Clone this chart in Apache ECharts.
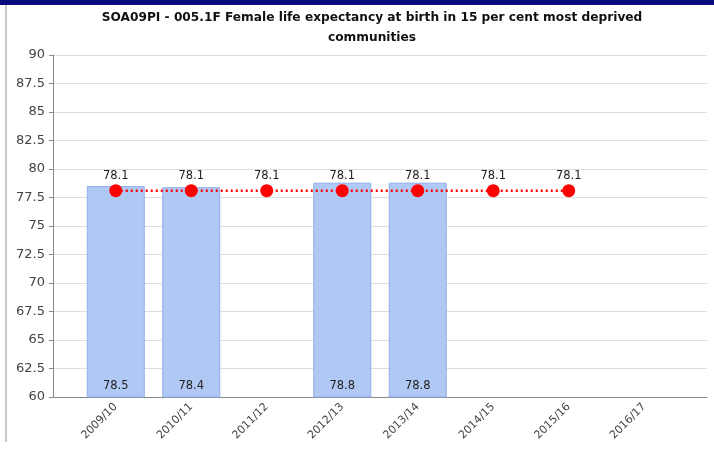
<!DOCTYPE html>
<html>
<head>
<meta charset="utf-8">
<script src="https://cdn.jsdelivr.net/npm/echarts@6/dist/echarts.min.js"></script>
<style>
  html, body { margin: 0; padding: 0; background: #fff; }
  .topbar { position: absolute; left: 0; top: 0; width: 714px; height: 5px; background: #0a0a7a; }
  .leftbar { position: absolute; left: 5px; top: 5px; width: 2px; height: 437px; background: #c8c8c8; }
  .chart { position: absolute; left: 0; top: 0; width: 714px; height: 452px; }
</style>
</head>
<body>
<div class="chart"></div>
<div class="topbar"></div>
<div class="leftbar"></div>
<script>
  var titleText = 'SOA09PI - 005.1F Female life expectancy at birth in 15 per cent most deprived\ncommunities';
  var years     = ['2009/10', '2010/11', '2011/12', '2012/13', '2013/14', '2014/15', '2015/16', '2016/17'];
  var actual    = [78.5, 78.4, null, 78.8, 78.8, null, null, null];
  var target    = [78.1, 78.1, 78.1, 78.1, 78.1, 78.1, 78.1, null];

  var chart = echarts.init(document.querySelector('.chart'));
  var font = 'Tahoma, "DejaVu Sans", sans-serif';

  var option = {
    animation: false,
    title: {
      text: titleText,
      left: 367,
      textAlign: 'center',
      top: 3,
      textStyle: { fontFamily: 'DejaVu Sans', fontWeight: 'bold', fontSize: 12.2, color: '#111', lineHeight: 20 }
    },
    grid: [
      {left: 53, right: 7, top: 55, bottom: 55},
      {left: 78, right: 32, top: 55, bottom: 55}
    ],
    xAxis: [
      {
        gridIndex: 0,
        type: 'category',
        data: years,
        axisLine: { lineStyle: { color: '#888' } },
        axisTick: { show: false },
        axisLabel: { show: false }
      },
      {
        gridIndex: 1,
        type: 'category',
        data: years,
        axisLine: { show: false },
        axisTick: { alignWithLabel: true, length: 5, lineStyle: { color: '#888' } },
        axisLabel: { rotate: 45, fontSize: 11, color: '#444', fontFamily: font, margin: 8 }
      }
    ],
    yAxis: [
      {
        gridIndex: 0,
        type: 'value',
        min: 60,
        max: 90,
        interval: 2.5,
        axisLine: { show: true, lineStyle: { color: '#888' } },
        axisTick: { show: true, length: 4, lineStyle: { color: '#888' } },
        axisLabel: { fontSize: 13, color: '#444', fontFamily: font, margin: 8 },
        splitLine: { lineStyle: { color: '#dedede' } }
      },
      {
        gridIndex: 1,
        type: 'value',
        min: 60,
        max: 90,
        interval: 2.5,
        show: false
      }
    ],
    series: [
      {
        name: 'Actual',
        type: 'bar',
        xAxisIndex: 1,
        yAxisIndex: 1,
        data: actual,
        barWidth: 58,
        itemStyle: { color: '#b0c8f4', borderColor: '#8eaeea', borderWidth: 1 },
        label: {
          show: true,
          position: 'insideBottom',
          distance: 5,
          color: '#222',
          fontSize: 11.5,
          fontFamily: font
        }
      },
      {
        name: 'Target',
        type: 'line',
        xAxisIndex: 1,
        yAxisIndex: 1,
        data: target,
        symbol: 'circle',
        symbolSize: 13,
        itemStyle: { color: '#ff0000' },
        lineStyle: { color: '#ff0000', width: 2.5, type: [2, 3] },
        label: {
          show: true,
          position: 'top',
          distance: 2,
          color: '#222',
          fontSize: 11.5,
          fontFamily: font
        },
        z: 3
      }
    ]
  };

  chart.setOption(option);
</script>
</body>
</html>
